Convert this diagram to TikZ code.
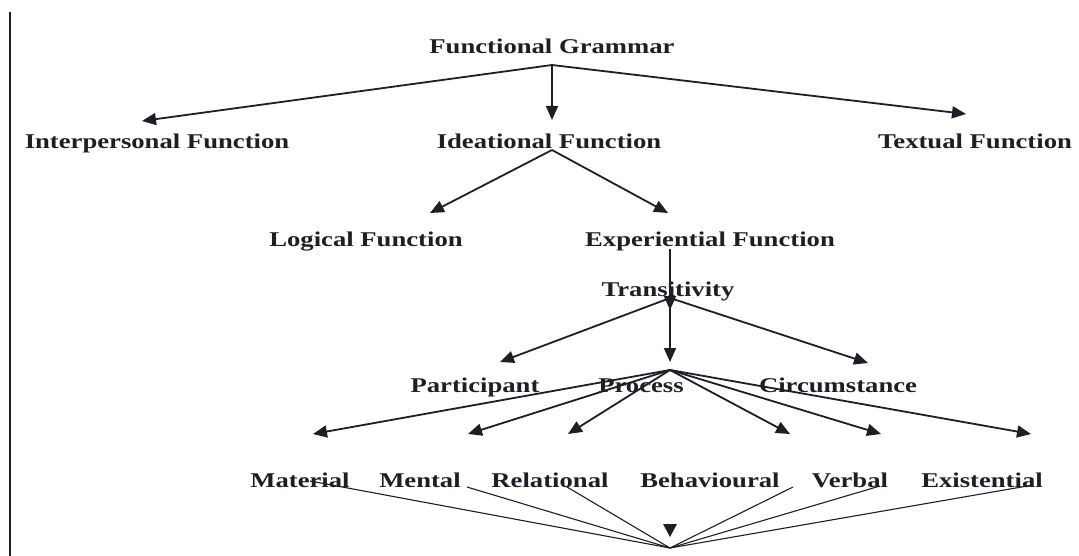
\documentclass[tikz,border=0pt]{standalone}
\usepackage{fontspec}
\newfontfamily\labfont[FakeStretch=1.27]{Liberation Serif}
\usetikzlibrary{arrows.meta}
\definecolor{ink}{HTML}{1E1E28}
\begin{document}
\begin{tikzpicture}[x=1pt,y=-1pt,
  lab/.style={anchor=base,inner sep=0pt,text=ink,font=\labfont\bfseries\fontsize{21}{25}\selectfont},
  arr/.style={draw=ink,line width=1.8pt,-{Triangle[length=14pt,width=12pt]}},
  thin/.style={draw=ink,line width=1.1pt}]
\useasboundingbox (0,0) rectangle (1079,556);
\fill[white] (0,0) rectangle (1079,556);
\draw[ink,line width=1.8pt] (10,12) -- (10,556);
% labels
\node[lab] (fg)  at (552,54) {Functional Grammar};
\node[lab] (int) at (157,149) {Interpersonal Function};
\node[lab] (ide) at (549,149) {Ideational Function};
\node[lab] (tex) at (975,149) {Textual Function};
\node[lab] (log) at (366,247) {Logical Function};
\node[lab] (exp) at (710,247) {Experiential Function};
\node[lab] (tra) at (668,296) {Transitivity};
\node[lab] (par) at (475,392) {Participant};
\node[lab] (pro) at (641,392) {Process};
\node[lab] (cir) at (838,392) {Circumstance};
\node[lab] (mat) at (300,487) {Material};
\node[lab] (men) at (420,487) {Mental};
\node[lab] (rel) at (550,487) {Relational};
\node[lab] (beh) at (710,487) {Behavioural};
\node[lab] (ver) at (850,487) {Verbal};
\node[lab] (exi) at (982,487) {Existential};
% connector points
\coordinate (fgo) at (552,65);
\coordinate (inti) at (142,121);
\coordinate (idei) at (552,120);
\coordinate (texi) at (966,114);
\coordinate (ideo) at (552,150);
\coordinate (logi) at (430,213);
\coordinate (expi) at (668,213);
\coordinate (expo) at (670,249);
\coordinate (trai) at (670,310);
\coordinate (trao) at (670,298);
\coordinate (pari) at (500,362);
\coordinate (proi) at (670,362);
\coordinate (ciri) at (868,363);
\coordinate (proo) at (670,370);
\coordinate (mati) at (313,434);
\coordinate (meni) at (468,434);
\coordinate (reli) at (568,434);
\coordinate (behi) at (790,434);
\coordinate (veri) at (881,434);
\coordinate (exii) at (1031,434);
\coordinate (bot) at (670,548);
\coordinate (mato) at (310,481);
\coordinate (meno) at (467,487);
\coordinate (relo) at (567,487);
\coordinate (beho) at (793,487);
\coordinate (vero) at (880,486);
\coordinate (exio) at (1033,485);
% arrows
\draw[arr] (fgo) -- (inti);
\draw[arr] (fgo) -- (idei);
\draw[arr] (fgo) -- (texi);
\draw[arr] (ideo) -- (logi);
\draw[arr] (ideo) -- (expi);
\draw[arr] (expo) -- (trai);
\draw[arr] (trao) -- (pari);
\draw[arr] (trao) -- (proi);
\draw[arr] (trao) -- (ciri);
\foreach \t in {mati,meni,reli,behi,veri,exii} \draw[arr] (proo) -- (\t);
\foreach \t in {mato,meno,relo,beho,vero,exio} \draw[thin] (bot) -- (\t);
\fill[ink] (663,524) -- (677,524) -- (670,537) -- cycle;
\end{tikzpicture}
\end{document}
